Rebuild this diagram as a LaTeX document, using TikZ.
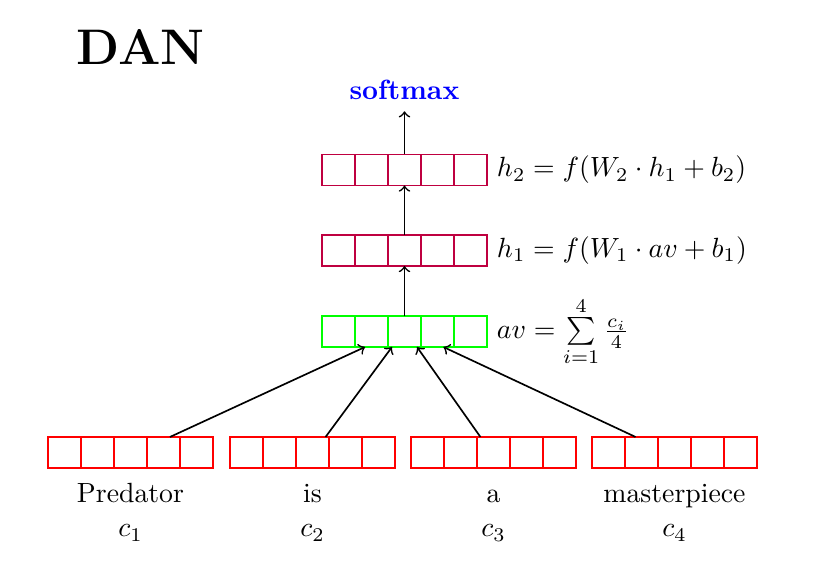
\documentclass[tikz,border=0pt]{standalone}
\usetikzlibrary{positioning}

\begin{document}
\begin{tikzpicture}[x=0.36pt, y=-0.36pt,
  cell/.style={draw, rectangle, minimum width=11.88pt, minimum height=11.16pt,
               inner sep=0pt, outer sep=0pt, line width=0.6pt},
  arr/.style={->, line width=0.6pt},
  eqlbl/.style={anchor=west, inner sep=3.4pt},
  word/.style={anchor=base, inner sep=0pt}
]
\useasboundingbox (0,0) rectangle (836,577);
\node[font=\fontsize{18}{20}\selectfont\bfseries, anchor=base west, inner sep=0pt]
  (title) at (76,65) {DAN};

% word vectors
\foreach \w/\x in {1/64.5, 2/246.5, 3/427.5, 4/608.5} {
  \node[cell, draw=red] (w\w-1) at (\x,452.5) {};
  \foreach \i [remember=\i as \j (initially 1)] in {2,...,5}
    \node[cell, draw=red, right=0pt of w\w-\j] (w\w-\i) {};
}

% average, hidden layers
\node[cell, draw=green]  (av-1) at (338.5,331.5) {};
\node[cell, draw=purple] (ha-1) at (338.5,250.5) {};
\node[cell, draw=purple] (hb-1) at (338.5,170) {};
\foreach \i [remember=\i as \j (initially 1)] in {2,...,5} {
  \node[cell, draw=green,  right=0pt of av-\j] (av-\i) {};
  \node[cell, draw=purple, right=0pt of ha-\j] (ha-\i) {};
  \node[cell, draw=purple, right=0pt of hb-\j] (hb-\i) {};
}

\node[font=\bfseries, text=blue, anchor=base, inner sep=3.8pt] (soft) at (404.5,100) {softmax};

% labels
\foreach \w/\txt in {1/Predator, 2/is, 3/a, 4/masterpiece} {
  \node[word] (t\w) at ([yshift=-12.6pt]w\w-3.south) {\txt};
  \node[word] (c\w) at ([yshift=-24.8pt]w\w-3.south) {$c_\w$};
}
\node[eqlbl] (eqav) at (av-5.east) {$av = \sum\limits_{i=1}^{4} \frac{c_i}{4}$};
\node[eqlbl] (eqha) at (ha-5.east) {$h_1 = f(W_1 \cdot av + b_1)$};
\node[eqlbl] (eqhb) at (hb-5.east) {$h_2 = f(W_2 \cdot h_1 + b_2)$};

% connections
\foreach \w/\s/\e in {1/14.2/-14.2, 2/4.7/-4.5, 3/-4.7/4.5, 4/-14/14}
  \draw[arr] ([xshift=\s pt]w\w-3.north) -- ([xshift=\e pt]av-3.south);
\draw[arr] (av-3.north) -- (ha-3.south);
\draw[arr] (ha-3.north) -- (hb-3.south);
\draw[arr] (hb-3.north) -- (hb-3.north |- soft.south);
\end{tikzpicture}
\end{document}
